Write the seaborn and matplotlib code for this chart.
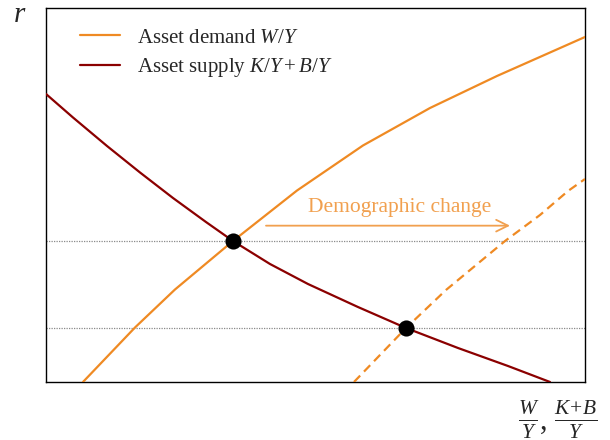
import numpy as np
import pandas as pd
import matplotlib
matplotlib.use("Agg")
import matplotlib.pyplot as plt
import seaborn as sns

# Curve points (arbitrary units, axes span 0..10)
supply_x = [0.000, 0.501, 1.132, 1.744, 2.356, 2.968, 3.469, 4.156, 4.861,
            5.788, 6.679, 7.644, 8.571, 9.351]
supply_y = [7.701, 7.072, 6.310, 5.602, 4.920, 4.278, 3.770, 3.155, 2.620,
            2.005, 1.444, 0.909, 0.428, 0.000]

demand_x = [0.686, 1.651, 2.393, 3.469, 4.657, 5.881, 7.124, 8.367, 10.000]
demand_y = [0.000, 1.457, 2.473, 3.770, 5.120, 6.324, 7.326, 8.182, 9.225]

demand_new_x = [5.714, 6.679, 7.421, 8.516, 9.165, 9.685, 10.000]
demand_new_y = [0.000, 1.444, 2.460, 3.770, 4.465, 5.107, 5.428]

eq_x = [3.469, 6.679]
eq_y = [3.770, 1.444]

arrow_start = (4.03, 4.18)
arrow_end = (8.66, 4.18)
arrow_label = "Demographic change"

orange = "#EF8A23"
darkred = "#8B0000"
light_orange = "#F1A04F"

sns.set_style("white")
plt.rcParams["font.family"] = ["Liberation Serif", "DejaVu Serif"]
plt.rcParams["mathtext.fontset"] = "custom"
plt.rcParams["mathtext.rm"] = "Liberation Serif"
plt.rcParams["mathtext.it"] = "Liberation Serif:italic"

fig = plt.figure(figsize=(6.1, 4.4), dpi=100)
ax = fig.add_axes([46 / 610, 58 / 440, 539 / 610, 374 / 440])

# horizontal reference lines through the equilibria
for yv in eq_y:
    ax.axhline(yv, color="#8a8a8a", lw=0.9, ls=(0, (1, 1)), zorder=1)

sns.lineplot(x=demand_x, y=demand_y, ax=ax, color=orange, lw=1.6,
             label="Asset demand $W/Y$", sort=False, zorder=3)
sns.lineplot(x=supply_x, y=supply_y, ax=ax, color=darkred, lw=1.6,
             label="Asset supply $K/Y + B/Y$", sort=False, zorder=3)
sns.lineplot(x=demand_new_x, y=demand_new_y, ax=ax, color=orange, lw=1.6,
             sort=False, zorder=3)
ax.lines[-1].set_linestyle((0, (4, 2.5)))
for ln in ax.lines:
    ln.set_solid_joinstyle("round")

sns.scatterplot(x=eq_x, y=eq_y, ax=ax, color="black", s=135, zorder=5,
                edgecolor="black", linewidth=0)

ax.annotate("", xy=arrow_end, xytext=arrow_start,
            arrowprops=dict(arrowstyle="->,head_length=0.85,head_width=0.42",
                            color=light_orange, lw=1.3))
ax.text(6.57, 4.545, arrow_label, color=light_orange, fontsize=15.5,
        ha="center", va="baseline")

ax.set_xlim(0, 10)
ax.set_ylim(0, 10)
ax.set_xticks([])
ax.set_yticks([])
for sp in ax.spines.values():
    sp.set_color("black")
    sp.set_linewidth(1.0)

leg = ax.legend(loc="upper left", bbox_to_anchor=(34 / 539, 1 - 20 / 374),
                frameon=False, fontsize=15, borderpad=0, borderaxespad=0,
                handlelength=1.92, handletextpad=0.8, labelspacing=0.4)

fig.text(20 / 610, 1 - 15 / 440, "$r$", fontsize=21, ha="center", va="center")
fig.text(558 / 610, 1 - 420 / 440, r"$\frac{W}{Y}$, $\frac{K\!+\!B}{Y}$",
         fontsize=22, ha="center", va="center")

fig.savefig("out.png", dpi=100)
